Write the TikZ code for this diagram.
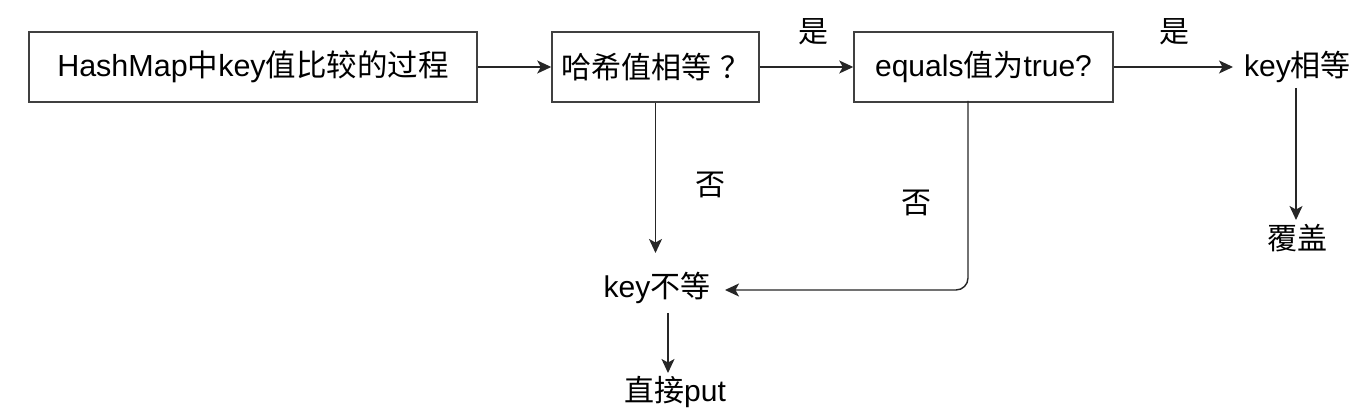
\documentclass[tikz,border=0pt]{standalone}
\usepackage{fontspec}
\setmainfont{Noto Sans CJK SC}
\newfontfamily\lat{Liberation Sans}
\usetikzlibrary{arrows.meta}
\tikzset{
  box/.style={draw=black!75, line width=1.5pt, minimum height=70pt, inner sep=0pt, font=\fontsize{30}{36}\selectfont},
  txt/.style={inner sep=0pt, font=\fontsize{30}{36}\selectfont},
  lbl/.style={inner sep=0pt, font=\fontsize{30}{36}\selectfont},
  arr/.style={draw=black!85, line width=1.4pt, -{Stealth[length=14pt,width=13pt,inset=3.5pt]}}
}
\begin{document}
\begin{tikzpicture}[x=1pt,y=-1pt]
\useasboundingbox (0,0) rectangle (1356,411);
\node[box, minimum width=448pt] (b1) at (253,67) {\fontsize{30.5}{36}\selectfont{\lat HashMap}中{\lat key}值比较的过程};
\node[box, minimum width=207pt] (b2) at (655.5,67) {哈希值相等\hspace{9pt}？\hspace{-9pt}};
\node[box, minimum width=259pt] (b3) at (983.5,67) {{\lat equals}值为{\lat true?}};
\node[txt] (keq) at (1297.5,67) {{\lat key}相等};
\node[txt] (fg) at (1297,238) {覆盖};
\node[txt] (kn) at (657,288) {{\lat key}不等};
\node[txt] (put) at (675,392) {直接{\lat put}};
\node[lbl] (y1) at (813,32) {是};
\node[lbl] (y2) at (1174,32) {是};
\node[lbl] (n1) at (710,185) {否};
\node[lbl] (n2) at (916,203) {否};
\coordinate (knTop) at (655.5,253);
\coordinate (knRight) at (725,290);
\coordinate (keqLeft) at (1233,67);
\coordinate (keqBot) at (1296,88);
\coordinate (fgTop) at (1296,220);
\coordinate (b3Out) at (968,101);
\coordinate (knBot) at (668,313);
\coordinate (putTop) at (668,373);
\draw[arr] (b1.east) -- (b2.west);
\draw[arr] (b2.east) -- (b3.west);
\draw[arr] (b3.east) -- (keqLeft);
\draw[arr] (keqBot) -- (fgTop);
\draw[arr] (b2.south) -- (knTop);
\draw[arr, rounded corners=12pt] (b3Out) |- (knRight);
\draw[arr] (knBot) -- (putTop);
\end{tikzpicture}
\end{document}
